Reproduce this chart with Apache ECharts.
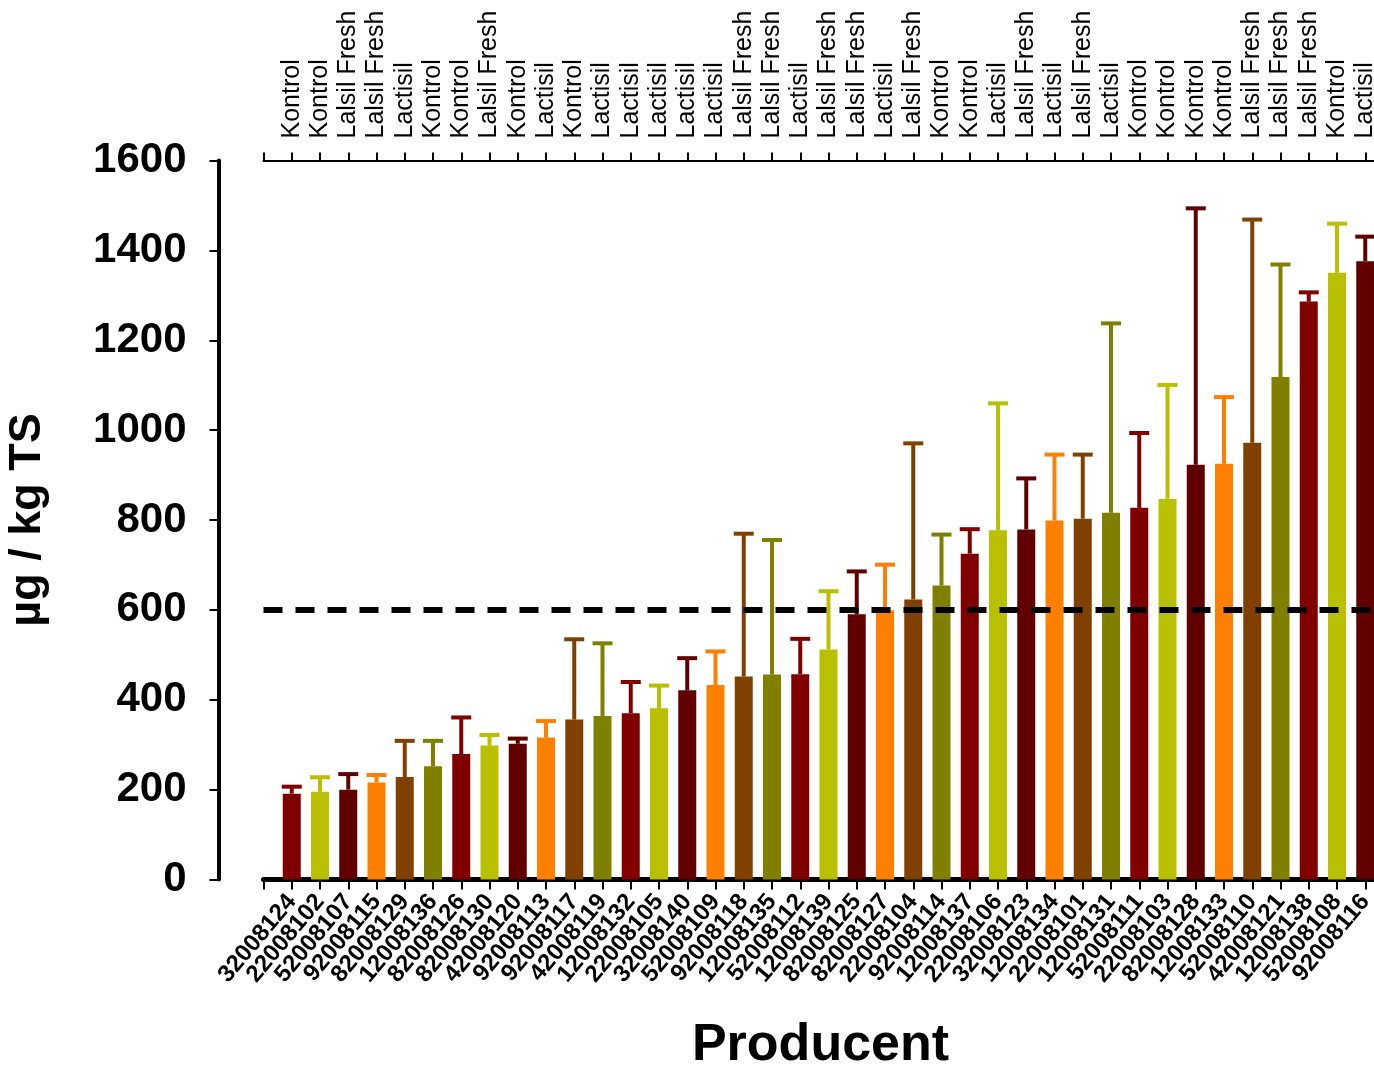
<!DOCTYPE html>
<html>
<head>
<meta charset="utf-8">
<script src="https://cdn.jsdelivr.net/npm/echarts@6/dist/echarts.min.js"></script>
<style>
html,body{margin:0;padding:0;background:#fff;}
#chart{width:1374px;height:1074px;}
</style>
</head>
<body>
<div id="chart"></div>
<script>
// ---- data ----
const producers = ['32008124','22008102','52008107','92008115','82008129','12008136','82008126','82008130','42008120','92008113',
  '92008117','42008119','12008132','22008105','32008140','52008109','92008118','12008135','52008112','12008139',
  '82008125','82008127','22008104','92008114','12008137','22008106','32008123','12008134','22008101','12008131',
  '52008111','22008103','82008128','12008133','52008110','42008121','12008138','52008108','92008116'];
const treatments = ['Kontrol','Kontrol','Lalsil Fresh','Lalsil Fresh','Lactisil','Kontrol','Kontrol','Lalsil Fresh','Kontrol','Lactisil',
  'Kontrol','Lactisil','Lactisil','Lactisil','Lactisil','Lactisil','Lalsil Fresh','Lalsil Fresh','Lactisil','Lalsil Fresh',
  'Lalsil Fresh','Lactisil','Lalsil Fresh','Kontrol','Kontrol','Lactisil','Lalsil Fresh','Lactisil','Lalsil Fresh','Lactisil',
  'Kontrol','Kontrol','Kontrol','Kontrol','Lalsil Fresh','Lalsil Fresh','Lalsil Fresh','Kontrol','Lactisil'];
const means = [191,195,200,216,228,252,279,298,302,316,
  356,364,370,381,421,433,452,456,457,512,
  590,599,623,654,725,777,779,799,803,816,
  827,847,923,925,972,1118,1286,1350,1376];
const sdPlus = [20,37,39,21,85,61,86,28,16,41,
  183,166,74,55,76,79,322,304,83,134,
  100,106,352,118,59,287,118,151,147,426,
  171,258,575,153,501,255,25,114,59];
const threshold = 600;
const yMin = 0, yMax = 1600, yStep = 200;

// ---- styles ----
const palette = ['#800000','#B9C000','#600000','#FF8000','#804000','#808000'];
const FONT = 'Liberation Sans, Arial, Helvetica, sans-serif';

// ---- build library data ----
const cats = [''].concat(producers, ['']);
const topCats = [''].concat(treatments, ['']);
const barData = ['-'].concat(means, ['-']);
const errData = means.map((m, i) => [i + 1, m, m + sdPlus[i]]);

const chart = echarts.init(document.getElementById('chart'), null, {renderer: 'canvas'});
chart.setOption({
  animation: false,
  backgroundColor: '#fff',
  grid: {left: 263.5, top: 160.5, width: 1130, height: 719, containLabel: false, outerBoundsMode: 'none'},
  xAxis: [{
    type: 'category', position: 'bottom', data: cats, boundaryGap: false,
    axisLine: {show: true, onZero: false, lineStyle: {color: '#000', width: 5}},
    axisTick: {show: true, interval: 0, length: 10, lineStyle: {color: '#000', width: 2}},
    axisLabel: {interval: 0, rotate: 50, margin: 18, color: '#000', fontFamily: FONT, fontWeight: 'bold', fontSize: 24},
    splitLine: {show: false},
    name: 'Producent', nameLocation: 'middle', nameGap: 140,
    nameTextStyle: {color: '#000', fontFamily: FONT, fontWeight: 'bold', fontSize: 52, padding: [0, 16, 0, 0]}
  }, {
    type: 'category', position: 'top', data: topCats, boundaryGap: false,
    axisLine: {show: true, onZero: false, lineStyle: {color: '#000', width: 2}},
    axisTick: {show: true, interval: 0, length: 8, lineStyle: {color: '#000', width: 2}},
    axisLabel: {interval: 0, rotate: -90, margin: 22, color: '#000', fontFamily: FONT, fontSize: 25},
    splitLine: {show: false}
  }],
  yAxis: {
    type: 'value', min: yMin, max: yMax, interval: yStep, offset: 45,
    axisLine: {show: true, lineStyle: {color: '#000', width: 4}},
    axisTick: {show: true, length: 9, lineStyle: {color: '#000', width: 2}},
    axisLabel: {margin: 32, color: '#000', fontFamily: FONT, fontWeight: 'bold', fontSize: 42,
      formatter: v => String(v)},
    splitLine: {show: false},
    name: 'µg / kg TS', nameLocation: 'middle', nameGap: 168,
    nameTextStyle: {color: '#000', fontFamily: FONT, fontWeight: 'bold', fontSize: 45}
  },
  series: [{
    type: 'bar', xAxisIndex: 0, data: barData, barWidth: 18,
    itemStyle: {color: p => palette[(p.dataIndex - 1 + 6) % 6]}
  }, {
    type: 'custom', xAxisIndex: 0, data: errData, encode: {x: 0, y: [1, 2]}, z: 3,
    renderItem: function (params, api) {
      const x = api.value(0), lo = api.value(1), hi = api.value(2);
      const p0 = api.coord([x, lo]);
      const p1 = api.coord([x, hi]);
      const c = palette[(x - 1) % 6];
      return {type: 'group', children: [
        {type: 'line', shape: {x1: p0[0], y1: p0[1], x2: p1[0], y2: p1[1] + 2}, style: {stroke: c, lineWidth: 4}},
        {type: 'line', shape: {x1: p1[0] - 10, y1: p1[1] + 2, x2: p1[0] + 10, y2: p1[1] + 2}, style: {stroke: c, lineWidth: 4}}
      ]};
    },
    markLine: {
      silent: true, symbol: ['none', 'none'], label: {show: false}, z: 5,
      lineStyle: {color: '#000', width: 6, type: [19, 13]},
      data: [{yAxis: threshold}]
    }
  }]
});
</script>
</body>
</html>
